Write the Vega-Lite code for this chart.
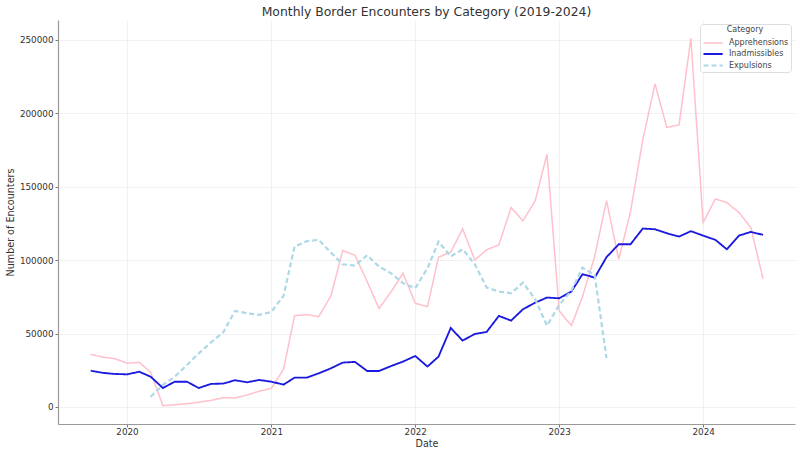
{
  "$schema": "https://vega.github.io/schema/vega-lite/v6.json",
  "autosize": "none",
  "width": 737,
  "height": 404,
  "padding": {"left": 58, "top": 20, "right": 5, "bottom": 31},
  "background": "white",
  "title": {"text": "Monthly Border Encounters by Category (2019-2024)", "font": "DejaVu Sans", "fontSize": 12.4, "fontWeight": "normal", "color": "#333333", "offset": 2},
  "config": {
    "view": {"stroke": null},
    "axis": {"labelFont": "DejaVu Sans", "titleFont": "DejaVu Sans", "labelFontSize": 8.8, "titleFontSize": 9.6, "titleFontWeight": "normal", "labelColor": "#333333", "titleColor": "#333333", "gridColor": "#eeeeee", "gridWidth": 0.8, "domainColor": "#999999", "domainWidth": 1.2, "tickColor": "#777777", "tickSize": 3}
  },
  "data": {"values": [
    {"date": "2019-10-01", "category": "Apprehensions", "value": 35900},
    {"date": "2019-11-01", "category": "Apprehensions", "value": 33900},
    {"date": "2019-12-01", "category": "Apprehensions", "value": 32900},
    {"date": "2020-01-01", "category": "Apprehensions", "value": 29800},
    {"date": "2020-02-01", "category": "Apprehensions", "value": 30400},
    {"date": "2020-03-01", "category": "Apprehensions", "value": 23600},
    {"date": "2020-04-01", "category": "Apprehensions", "value": 900},
    {"date": "2020-05-01", "category": "Apprehensions", "value": 1500},
    {"date": "2020-06-01", "category": "Apprehensions", "value": 2200},
    {"date": "2020-07-01", "category": "Apprehensions", "value": 3200},
    {"date": "2020-08-01", "category": "Apprehensions", "value": 4500},
    {"date": "2020-09-01", "category": "Apprehensions", "value": 6300},
    {"date": "2020-10-01", "category": "Apprehensions", "value": 6100},
    {"date": "2020-11-01", "category": "Apprehensions", "value": 8200},
    {"date": "2020-12-01", "category": "Apprehensions", "value": 10700},
    {"date": "2021-01-01", "category": "Apprehensions", "value": 12700},
    {"date": "2021-02-01", "category": "Apprehensions", "value": 25700},
    {"date": "2021-03-01", "category": "Apprehensions", "value": 62200},
    {"date": "2021-04-01", "category": "Apprehensions", "value": 62900},
    {"date": "2021-05-01", "category": "Apprehensions", "value": 61500},
    {"date": "2021-06-01", "category": "Apprehensions", "value": 75600},
    {"date": "2021-07-01", "category": "Apprehensions", "value": 106500},
    {"date": "2021-08-01", "category": "Apprehensions", "value": 103300},
    {"date": "2021-09-01", "category": "Apprehensions", "value": 85400},
    {"date": "2021-10-01", "category": "Apprehensions", "value": 67000},
    {"date": "2021-11-01", "category": "Apprehensions", "value": 78600},
    {"date": "2021-12-01", "category": "Apprehensions", "value": 91000},
    {"date": "2022-01-01", "category": "Apprehensions", "value": 70600},
    {"date": "2022-02-01", "category": "Apprehensions", "value": 68300},
    {"date": "2022-03-01", "category": "Apprehensions", "value": 102000},
    {"date": "2022-04-01", "category": "Apprehensions", "value": 105400},
    {"date": "2022-05-01", "category": "Apprehensions", "value": 121300},
    {"date": "2022-06-01", "category": "Apprehensions", "value": 100100},
    {"date": "2022-07-01", "category": "Apprehensions", "value": 107000},
    {"date": "2022-08-01", "category": "Apprehensions", "value": 110400},
    {"date": "2022-09-01", "category": "Apprehensions", "value": 135800},
    {"date": "2022-10-01", "category": "Apprehensions", "value": 126700},
    {"date": "2022-11-01", "category": "Apprehensions", "value": 140300},
    {"date": "2022-12-01", "category": "Apprehensions", "value": 172100},
    {"date": "2023-01-01", "category": "Apprehensions", "value": 65400},
    {"date": "2023-02-01", "category": "Apprehensions", "value": 55400},
    {"date": "2023-03-01", "category": "Apprehensions", "value": 75100},
    {"date": "2023-04-01", "category": "Apprehensions", "value": 102400},
    {"date": "2023-05-01", "category": "Apprehensions", "value": 140500},
    {"date": "2023-06-01", "category": "Apprehensions", "value": 100600},
    {"date": "2023-07-01", "category": "Apprehensions", "value": 133100},
    {"date": "2023-08-01", "category": "Apprehensions", "value": 181900},
    {"date": "2023-09-01", "category": "Apprehensions", "value": 220000},
    {"date": "2023-10-01", "category": "Apprehensions", "value": 190300},
    {"date": "2023-11-01", "category": "Apprehensions", "value": 192100},
    {"date": "2023-12-01", "category": "Apprehensions", "value": 251100},
    {"date": "2024-01-01", "category": "Apprehensions", "value": 125600},
    {"date": "2024-02-01", "category": "Apprehensions", "value": 141700},
    {"date": "2024-03-01", "category": "Apprehensions", "value": 139200},
    {"date": "2024-04-01", "category": "Apprehensions", "value": 132400},
    {"date": "2024-05-01", "category": "Apprehensions", "value": 122100},
    {"date": "2024-06-01", "category": "Apprehensions", "value": 87200},
    {"date": "2019-10-01", "category": "Inadmissibles", "value": 24700},
    {"date": "2019-11-01", "category": "Inadmissibles", "value": 23200},
    {"date": "2019-12-01", "category": "Inadmissibles", "value": 22500},
    {"date": "2020-01-01", "category": "Inadmissibles", "value": 22200},
    {"date": "2020-02-01", "category": "Inadmissibles", "value": 24000},
    {"date": "2020-03-01", "category": "Inadmissibles", "value": 20600},
    {"date": "2020-04-01", "category": "Inadmissibles", "value": 12900},
    {"date": "2020-05-01", "category": "Inadmissibles", "value": 17200},
    {"date": "2020-06-01", "category": "Inadmissibles", "value": 17200},
    {"date": "2020-07-01", "category": "Inadmissibles", "value": 12900},
    {"date": "2020-08-01", "category": "Inadmissibles", "value": 15700},
    {"date": "2020-09-01", "category": "Inadmissibles", "value": 15900},
    {"date": "2020-10-01", "category": "Inadmissibles", "value": 18200},
    {"date": "2020-11-01", "category": "Inadmissibles", "value": 16800},
    {"date": "2020-12-01", "category": "Inadmissibles", "value": 18400},
    {"date": "2021-01-01", "category": "Inadmissibles", "value": 17200},
    {"date": "2021-02-01", "category": "Inadmissibles", "value": 15200},
    {"date": "2021-03-01", "category": "Inadmissibles", "value": 20000},
    {"date": "2021-04-01", "category": "Inadmissibles", "value": 20000},
    {"date": "2021-05-01", "category": "Inadmissibles", "value": 22900},
    {"date": "2021-06-01", "category": "Inadmissibles", "value": 26300},
    {"date": "2021-07-01", "category": "Inadmissibles", "value": 30200},
    {"date": "2021-08-01", "category": "Inadmissibles", "value": 30700},
    {"date": "2021-09-01", "category": "Inadmissibles", "value": 24500},
    {"date": "2021-10-01", "category": "Inadmissibles", "value": 24500},
    {"date": "2021-11-01", "category": "Inadmissibles", "value": 27900},
    {"date": "2021-12-01", "category": "Inadmissibles", "value": 30900},
    {"date": "2022-01-01", "category": "Inadmissibles", "value": 34700},
    {"date": "2022-02-01", "category": "Inadmissibles", "value": 27500},
    {"date": "2022-03-01", "category": "Inadmissibles", "value": 34300},
    {"date": "2022-04-01", "category": "Inadmissibles", "value": 53800},
    {"date": "2022-05-01", "category": "Inadmissibles", "value": 45200},
    {"date": "2022-06-01", "category": "Inadmissibles", "value": 49700},
    {"date": "2022-07-01", "category": "Inadmissibles", "value": 51100},
    {"date": "2022-08-01", "category": "Inadmissibles", "value": 62000},
    {"date": "2022-09-01", "category": "Inadmissibles", "value": 58800},
    {"date": "2022-10-01", "category": "Inadmissibles", "value": 66500},
    {"date": "2022-11-01", "category": "Inadmissibles", "value": 71000},
    {"date": "2022-12-01", "category": "Inadmissibles", "value": 74500},
    {"date": "2023-01-01", "category": "Inadmissibles", "value": 74000},
    {"date": "2023-02-01", "category": "Inadmissibles", "value": 78600},
    {"date": "2023-03-01", "category": "Inadmissibles", "value": 90400},
    {"date": "2023-04-01", "category": "Inadmissibles", "value": 88100},
    {"date": "2023-05-01", "category": "Inadmissibles", "value": 102000},
    {"date": "2023-06-01", "category": "Inadmissibles", "value": 110800},
    {"date": "2023-07-01", "category": "Inadmissibles", "value": 110800},
    {"date": "2023-08-01", "category": "Inadmissibles", "value": 121500},
    {"date": "2023-09-01", "category": "Inadmissibles", "value": 121000},
    {"date": "2023-10-01", "category": "Inadmissibles", "value": 118300},
    {"date": "2023-11-01", "category": "Inadmissibles", "value": 116000},
    {"date": "2023-12-01", "category": "Inadmissibles", "value": 119700},
    {"date": "2024-01-01", "category": "Inadmissibles", "value": 116700},
    {"date": "2024-02-01", "category": "Inadmissibles", "value": 113800},
    {"date": "2024-03-01", "category": "Inadmissibles", "value": 107400},
    {"date": "2024-04-01", "category": "Inadmissibles", "value": 116700},
    {"date": "2024-05-01", "category": "Inadmissibles", "value": 119200},
    {"date": "2024-06-01", "category": "Inadmissibles", "value": 117200},
    {"date": "2020-03-01", "category": "Expulsions", "value": 7000},
    {"date": "2020-04-01", "category": "Expulsions", "value": 15000},
    {"date": "2020-05-01", "category": "Expulsions", "value": 20600},
    {"date": "2020-06-01", "category": "Expulsions", "value": 28600},
    {"date": "2020-07-01", "category": "Expulsions", "value": 36500},
    {"date": "2020-08-01", "category": "Expulsions", "value": 44000},
    {"date": "2020-09-01", "category": "Expulsions", "value": 50900},
    {"date": "2020-10-01", "category": "Expulsions", "value": 65400},
    {"date": "2020-11-01", "category": "Expulsions", "value": 63800},
    {"date": "2020-12-01", "category": "Expulsions", "value": 62700},
    {"date": "2021-01-01", "category": "Expulsions", "value": 64700},
    {"date": "2021-02-01", "category": "Expulsions", "value": 75700},
    {"date": "2021-03-01", "category": "Expulsions", "value": 109200},
    {"date": "2021-04-01", "category": "Expulsions", "value": 112900},
    {"date": "2021-05-01", "category": "Expulsions", "value": 113800},
    {"date": "2021-06-01", "category": "Expulsions", "value": 105100},
    {"date": "2021-07-01", "category": "Expulsions", "value": 97200},
    {"date": "2021-08-01", "category": "Expulsions", "value": 96300},
    {"date": "2021-09-01", "category": "Expulsions", "value": 103300},
    {"date": "2021-10-01", "category": "Expulsions", "value": 95600},
    {"date": "2021-11-01", "category": "Expulsions", "value": 91000},
    {"date": "2021-12-01", "category": "Expulsions", "value": 84300},
    {"date": "2022-01-01", "category": "Expulsions", "value": 80900},
    {"date": "2022-02-01", "category": "Expulsions", "value": 94500},
    {"date": "2022-03-01", "category": "Expulsions", "value": 112600},
    {"date": "2022-04-01", "category": "Expulsions", "value": 102400},
    {"date": "2022-05-01", "category": "Expulsions", "value": 107400},
    {"date": "2022-06-01", "category": "Expulsions", "value": 97200},
    {"date": "2022-07-01", "category": "Expulsions", "value": 81300},
    {"date": "2022-08-01", "category": "Expulsions", "value": 78600},
    {"date": "2022-09-01", "category": "Expulsions", "value": 77400},
    {"date": "2022-10-01", "category": "Expulsions", "value": 84700},
    {"date": "2022-11-01", "category": "Expulsions", "value": 73400},
    {"date": "2022-12-01", "category": "Expulsions", "value": 55400},
    {"date": "2023-01-01", "category": "Expulsions", "value": 69500},
    {"date": "2023-02-01", "category": "Expulsions", "value": 79200},
    {"date": "2023-03-01", "category": "Expulsions", "value": 94900},
    {"date": "2023-04-01", "category": "Expulsions", "value": 89900},
    {"date": "2023-05-01", "category": "Expulsions", "value": 33200}
  ]},
  "mark": {"type": "line", "clip": true},
  "encoding": {
    "x": {
      "field": "date", "type": "temporal", "title": "Date",
      "scale": {"type": "utc", "domain": [{"year": 2019, "month": 7, "date": 10, "utc": true}, {"year": 2024, "month": 8, "date": 21, "utc": true}]},
      "axis": {"format": "%Y", "formatType": "utc", "tickCount": "year", "titlePadding": 3, "labelPadding": 0}
    },
    "y": {
      "field": "value", "type": "quantitative", "title": "Number of Encounters",
      "scale": {"domain": [-11600, 263500], "nice": false, "zero": false},
      "axis": {"values": [0, 50000, 100000, 150000, 200000, 250000], "format": "d", "titlePadding": 4, "labelPadding": 2}
    },
    "color": {
      "field": "category", "type": "nominal", "title": "Category",
      "scale": {"domain": ["Apprehensions", "Inadmissibles", "Expulsions"], "range": ["#ffc0cb", "#1a1ade", "#add8e6"]},
      "legend": {"orient": "top-right", "offset": 4, "symbolType": "M-1,0H2.2", "symbolSize": 144, "symbolStrokeWidth": 1.8, "labelOffset": 12, "labelFont": "DejaVu Sans", "titleFont": "DejaVu Sans", "labelFontSize": 8, "titleFontSize": 8, "titleFontWeight": "normal", "titleColor": "#444444", "labelColor": "#444444", "titleAnchor": "middle", "fillColor": "white", "strokeColor": "#dddddd", "padding": 2, "cornerRadius": 3, "rowPadding": -0.5, "titlePadding": 2}
    },
    "strokeDash": {
      "field": "category", "type": "nominal", "title": "Category",
      "scale": {"domain": ["Apprehensions", "Inadmissibles", "Expulsions"], "range": [[1, 0], [1, 0], [5, 3]]}
    },
    "strokeWidth": {
      "field": "category", "type": "nominal", "legend": null,
      "scale": {"domain": ["Apprehensions", "Inadmissibles", "Expulsions"], "range": [1.5, 2.2, 1.4]}
    }
  }
}
